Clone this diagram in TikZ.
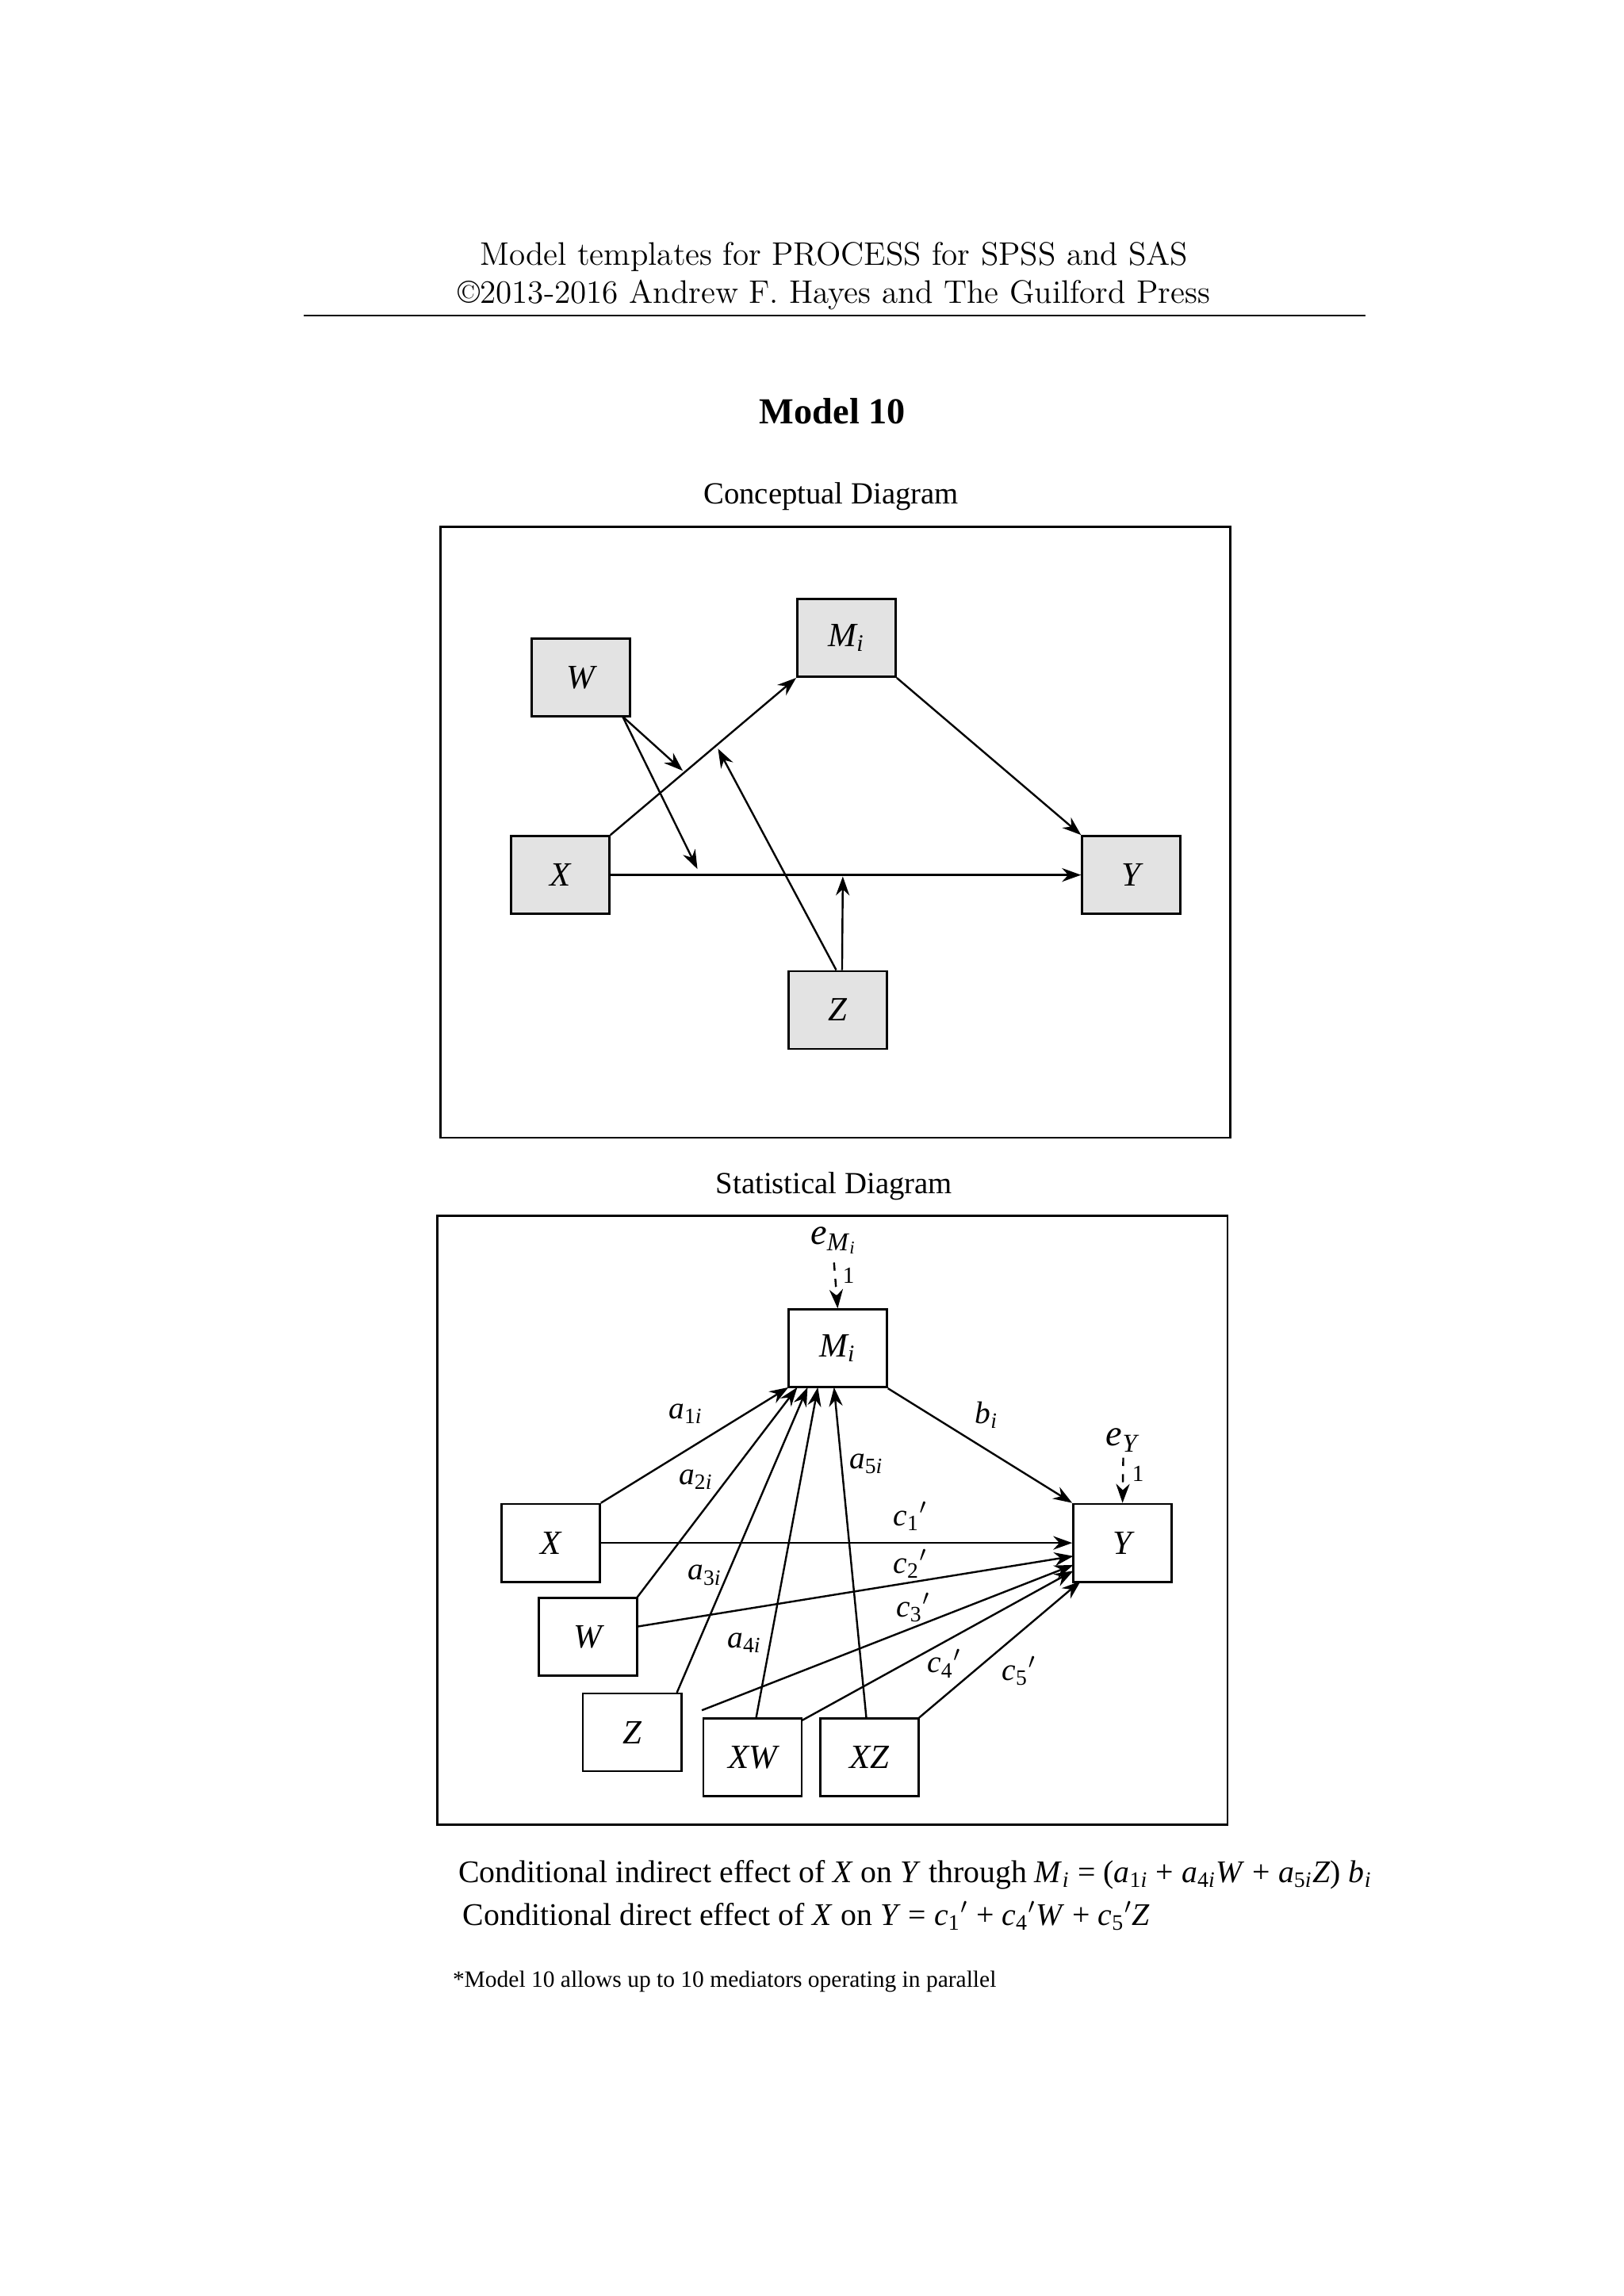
\documentclass[tikz,border=0pt]{standalone}
\usepackage{fontspec}
\setmainfont{Liberation Serif}
\newfontfamily\lmr{Latin Modern Roman}
\usetikzlibrary{arrows.meta}
\newcommand{\vi}[1]{\textit{#1}}
\newcommand{\sbi}[2]{\textit{#1}\textsubscript{#2\textit{i}}}
\begin{document}
\begin{tikzpicture}[x=0.018987cm,y=-0.018987cm,
  box/.style={draw,line width=0.8pt,minimum width=1.272cm,minimum height=1.006cm,inner sep=0pt,font=\fontsize{12.5}{15}\selectfont\itshape},
  gbox/.style={box,fill=black!11},
  arr/.style={line width=0.7pt,-{Stealth[length=7pt,width=5pt]}},
  darr/.style={arr,dashed},
  lab/.style={font=\fontsize{11.5}{14}\selectfont,inner sep=1pt},
  ttl/.style={font=\fontsize{11.3}{14}\selectfont}]
\useasboundingbox (0,0) rectangle (1106,1564);
% header
\node[font=\lmr\fontsize{12}{15}\selectfont] (h1) at (568,175) {Model templates for PROCESS for SPSS and SAS};
\node[font=\lmr\fontsize{12}{15}\selectfont] (h2) at (568,201) {\copyright2013-2016 Andrew F. Hayes and The Guilford Press};
\draw[line width=0.5pt] (207,215) -- (930,215);
\node[font=\fontsize{13.5}{16}\selectfont\bfseries] (t) at (567,280) {Model 10};
\node[ttl] (c) at (566,338) {Conceptual Diagram};
% conceptual
\draw[line width=0.8pt] (300,359) rectangle (838,775);
\node[gbox] (W) at (395.5,461.5) {W};
\node[gbox] (M) at (576.5,434.5) {M\textsubscript{\textit{i}}};
\node[gbox] (X) at (381.5,596) {X};
\node[gbox] (Y) at (770.5,596) {Y};
\node[gbox] (Z) at (570.5,688) {Z};
\coordinate (p1) at (465,525);
\coordinate (p2) at (475,592);
\coordinate (p3) at (489,510);
\coordinate (p4) at (574,597);
\draw[arr] (X.north east) -- (M.south west);
\draw[arr] (X.east) -- (Y.west);
\draw[arr] (M.south east) -- (Y.north west);
\draw[arr] (424,488) -- (p1);
\draw[arr] (424,488) -- (p2);
\draw[arr] (Z.north) ++(-1,0) -- (p3);
\draw[arr] (Z.north) ++(3,0) -- (p4);
% statistical
\node[ttl] (s) at (568,808) {Statistical Diagram};
\draw[line width=0.8pt] (298,828) rectangle (836,1243);
\node[box] (SM) at (570.5,918.5) {M\textsubscript{\textit{i}}};
\node[box] (SX) at (375,1051) {X};
\node[box] (SY) at (764.5,1051) {Y};
\node[box] (SW) at (400.5,1115) {W};
\node[box] (SZ) at (430.5,1180) {Z};
\node[box] (SXW) at (512.5,1197) {XW};
\node[box] (SXZ) at (592,1197) {XZ};
\node[font=\fontsize{13.5}{16}\selectfont,inner sep=0pt] (eM) at (568,845) {\textit{e}\textsubscript{\textit{M}\textsubscript{\textit{i}}}};
\node[font=\fontsize{13.5}{16}\selectfont,inner sep=0pt] (eY) at (765,981) {\textit{e}\textsubscript{\textit{Y}}};
\draw[darr] (568,860) -- (SM.north);
\draw[darr] (765,993) -- (SY.north);
\node[font=\fontsize{8.5}{10}\selectfont] (n1) at (578,869) {1};
\node[font=\fontsize{8.5}{10}\selectfont] (n2) at (775,1004) {1};
\draw[arr] (SX.north east) -- (537,945);
\draw[arr] (434,1088) -- (543,945);
\draw[arr] (461,1153) -- (550,945);
\draw[arr] (515,1170) -- (557,945);
\draw[arr] (590,1170) -- (568,945);
\draw[arr] (SM.south east) -- (SY.north west);
\draw[arr] (SX.east) -- (SY.west);
\draw[arr] (434,1108) -- (731,1060);
\draw[arr] (478,1165) -- (731,1066);
\draw[arr] (546,1172) -- (731,1070);
\draw[arr] (626,1170) -- (736,1077);
\node[lab] (la1) at (467,963) {\sbi{a}{1}};
\node[lab] (la2) at (474,1008) {\sbi{a}{2}};
\node[lab] (la3) at (480,1073) {\sbi{a}{3}};
\node[lab] (la4) at (507,1119) {\sbi{a}{4}};
\node[lab] (la5) at (590,997) {\sbi{a}{5}};
\node[lab] (lb) at (672,964) {\textit{b}\textsubscript{\textit{i}}};
\node[lab] (lc1) at (620,1033) {\textit{c}\textsubscript{1}$'$};
\node[lab] (lc2) at (620,1065) {\textit{c}\textsubscript{2}$'$};
\node[lab] (lc3) at (622,1095) {\textit{c}\textsubscript{3}$'$};
\node[lab] (lc4) at (643,1133) {\textit{c}\textsubscript{4}$'$};
\node[lab] (lc5) at (694,1138) {\textit{c}\textsubscript{5}$'$};
% equations
\node[anchor=west,font=\fontsize{11.6}{14}\selectfont,inner sep=0pt] (e1) at (312,1277) {Conditional indirect effect of \vi{X} on \vi{Y} through \textit{M}\textsubscript{\textit{i}} = (\sbi{a}{1} + \sbi{a}{4}\vi{W} + \sbi{a}{5}\vi{Z}) \textit{b}\textsubscript{\textit{i}}};
\node[anchor=west,font=\fontsize{11.6}{14}\selectfont,inner sep=0pt] (e2) at (315,1305) {Conditional direct effect of \vi{X} on \vi{Y} = \textit{c}\textsubscript{1}$'$ + \textit{c}\textsubscript{4}$'$\vi{W} + \textit{c}\textsubscript{5}$'$\vi{Z}};
\node[anchor=west,font=\fontsize{8.6}{10}\selectfont,inner sep=0pt] (fn) at (308,1350) {*Model 10 allows up to 10 mediators operating in parallel};
\end{tikzpicture}
\end{document}
